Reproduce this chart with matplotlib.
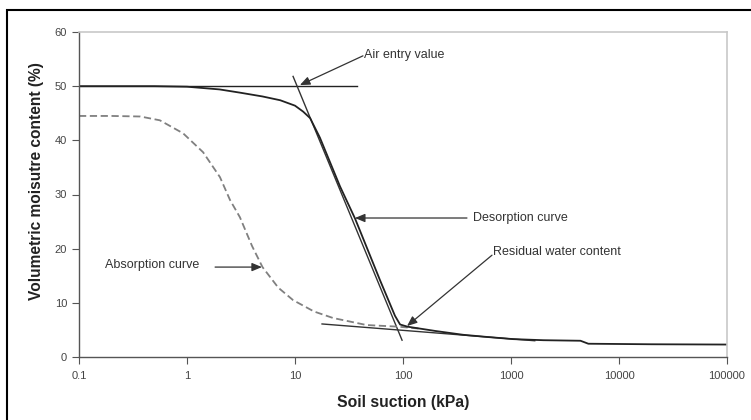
import matplotlib
matplotlib.use("Agg")
import matplotlib.pyplot as plt
from matplotlib.patches import Rectangle

plt.rcParams["font.family"] = ["Liberation Sans", "DejaVu Sans"]

# Soil-water characteristic curves (suction in kPa, volumetric moisture content in %)
desorption_suction = [0.1, 0.5, 1, 2, 3.1, 5, 7.3, 10, 11.9, 13.8, 17, 26.1, 35.9, 40, 61.2, 84.3,
                      94, 110, 200, 360, 600, 1050, 2000, 4400, 5200, 20000, 100000]
desorption_moisture = [50.0, 50.0, 49.9, 49.4, 48.8, 48.1, 47.4, 46.4, 45.3, 44.1, 40.5, 31.5, 25.6,
                       23.3, 14.2, 7.6, 6.0, 5.6, 4.8, 4.1, 3.7, 3.3, 3.1, 3.0, 2.45, 2.35, 2.3]

absorption_suction = [0.1, 0.2, 0.37, 0.56, 0.92, 1.41, 2.02, 2.5, 3.09, 4.0, 5.0, 7.0, 9.6,
                      15, 22.5, 46, 90, 150]
absorption_moisture = [44.5, 44.5, 44.4, 43.7, 41.3, 37.8, 33.2, 29.0, 25.8, 20.5, 16.6, 12.8, 10.5,
                       8.4, 7.2, 5.9, 5.6, 5.2]

# Construction lines used to read the air-entry value and the residual water content
saturation_line_suction = [0.1, 37.5]
saturation_line_moisture = [50.0, 50.0]
slope_line_suction = [9.6, 98]
slope_line_moisture = [51.8, 3.1]
residual_line_suction = [17.8, 1660]
residual_line_moisture = [6.1, 3.0]

x_ticks = [0.1, 1, 10, 100, 1000, 10000, 100000]
x_tick_labels = ["0.1", "1", "10", "100", "1000", "10000", "100000"]
y_ticks = [0, 10, 20, 30, 40, 50, 60]

fig = plt.figure(figsize=(7.51, 4.20), dpi=100)
ax = fig.add_axes([79 / 751, 1 - 357 / 420, 648 / 751, 325 / 420])

ax.plot(saturation_line_suction, saturation_line_moisture, color="#222222", lw=1.0)
ax.plot(slope_line_suction, slope_line_moisture, color="#333333", lw=1.0)
ax.plot(residual_line_suction, residual_line_moisture, color="#333333", lw=1.0)
ax.plot(absorption_suction, absorption_moisture, color="#808080", lw=1.3,
        dashes=(4, 2))
ax.plot(desorption_suction, desorption_moisture, color="#222222", lw=1.3)

ax.set_xscale("log")
ax.set_xlim(0.1, 100000)
ax.set_ylim(0, 60)
ax.set_xticks(x_ticks)
ax.set_xticklabels(x_tick_labels)
ax.set_yticks(y_ticks)
ax.minorticks_off()
ax.tick_params(axis="both", direction="out", length=5, width=0.8, color="#555555",
               labelsize=8, labelcolor="#444444")
ax.tick_params(axis="x", pad=5)

for side in ("left", "bottom"):
    ax.spines[side].set_color("#555555")
    ax.spines[side].set_linewidth(1.0)
for side in ("top", "right"):
    ax.spines[side].set_color("#c8c8c8")
    ax.spines[side].set_linewidth(1.2)

ax.set_xlabel("Soil suction (kPa)", fontsize=11.3, fontweight="bold", color="#222222",
              labelpad=10)
ax.set_ylabel("Volumetric moisutre content (%)", fontsize=11.2, fontweight="bold",
              color="#222222")
ax.yaxis.set_label_coords(-0.054, 0.54)

arrow_style = dict(arrowstyle="-|>,head_length=0.6,head_width=0.25", color="#333333",
                   lw=0.9, shrinkA=0, shrinkB=0)
text_style = dict(fontsize=9, color="#333333", va="center", ha="left")

ax.annotate("", xy=(11.1, 50.2), xytext=(42.6, 55.6), arrowprops=arrow_style)
ax.text(43.5, 55.75, "Air entry value", **text_style)

ax.annotate("", xy=(35.9, 25.66), xytext=(391, 25.66), arrowprops=arrow_style)
ax.text(445, 25.66, "Desorption curve", **text_style)

ax.annotate("", xy=(109, 5.72), xytext=(667, 18.8), arrowprops=arrow_style)
ax.text(681, 19.4, "Residual water content", **text_style)

ax.annotate("", xy=(4.94, 16.6), xytext=(1.82, 16.6), arrowprops=arrow_style)
ax.text(0.174, 17.0, "Absorption curve", **text_style)

# Outer frame around the whole graphic
fig.patches.append(Rectangle((7 / 751, -0.05), 1.1, 1 - 10 / 420 + 0.05,
                             transform=fig.transFigure, fill=False,
                             edgecolor="black", lw=1.5))

fig.savefig("out.png", dpi=100)
